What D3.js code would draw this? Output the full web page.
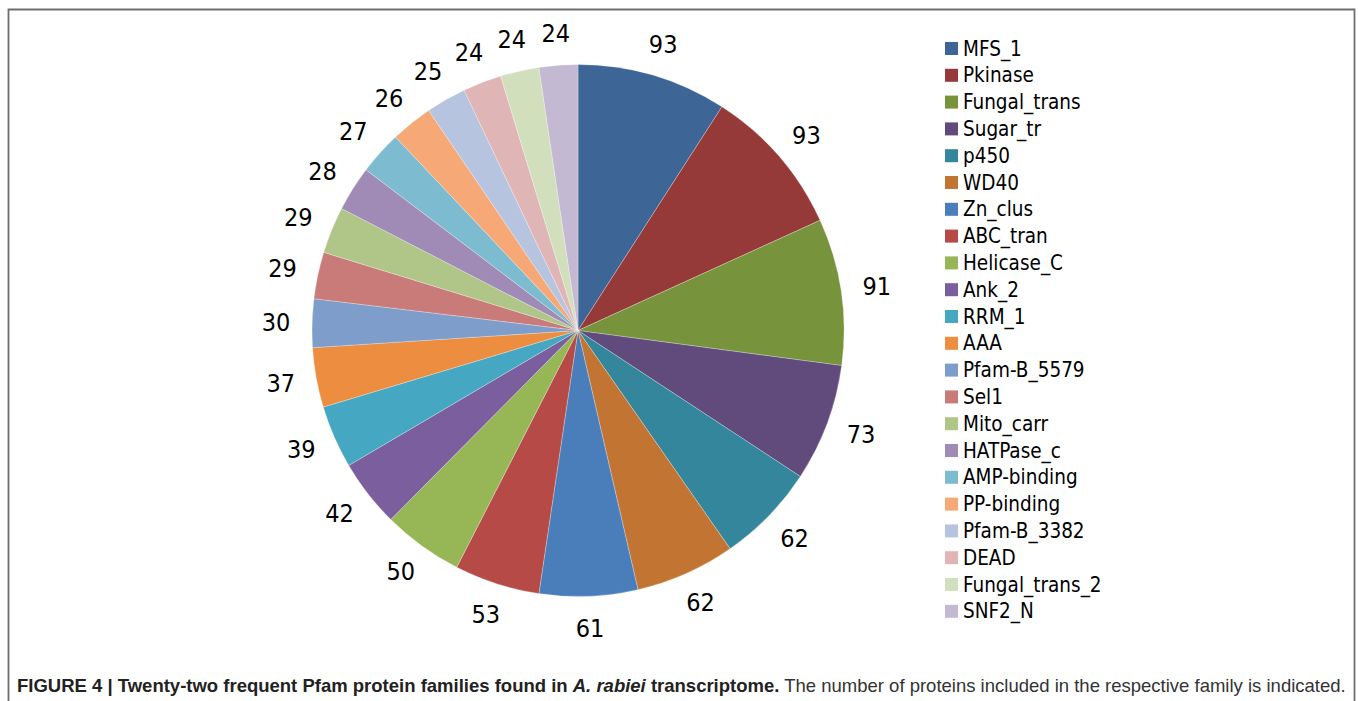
<!DOCTYPE html>
<html>
<head>
<meta charset="utf-8">
<script src="https://cdn.jsdelivr.net/npm/d3@7"></script>
<style>
  html, body { margin: 0; padding: 0; background: #fff; }
  svg { display: block; }
  .lbl { font-family: "DejaVu Sans Condensed", "DejaVu Sans", sans-serif; font-stretch: condensed; }
  .cap { font-family: "Liberation Sans", Arial, sans-serif; }
</style>
</head>
<body>
<svg id="chart" width="1358" height="701"></svg>
<script>
// Pfam families and their protein counts
const families = ["MFS_1", "Pkinase", "Fungal_trans", "Sugar_tr", "p450", "WD40", "Zn_clus",
  "ABC_tran", "Helicase_C", "Ank_2", "RRM_1", "AAA", "Pfam-B_5579", "Sel1", "Mito_carr",
  "HATPase_c", "AMP-binding", "PP-binding", "Pfam-B_3382", "DEAD", "Fungal_trans_2", "SNF2_N"];
const counts = [93, 93, 91, 73, 62, 62, 61, 53, 50, 42, 39, 37, 30, 29, 29, 28, 27, 26, 25, 24, 24, 24];
const palette = ["#3d6697", "#953a38", "#77933c", "#614b7c", "#33869b", "#c27533", "#4a7ebb",
  "#b64a47", "#97b655", "#7b5e9e", "#46a7c2", "#ec8d40", "#7f9dca", "#c97b7a", "#afc688",
  "#9f8bb5", "#7dbbd0", "#f6a877", "#b6c4df", "#dfb6b5", "#d2dfbd", "#c3b9d2"];

const data = families.map((name, i) => ({ name, value: counts[i], color: palette[i] }));

const svg = d3.select("#chart");
const W = 1358, H = 701;

// figure frame (open at the bottom)
svg.append("path")
  .attr("d", `M8.5,${H} V9.5 H1354.5 V${H}`)
  .attr("fill", "none")
  .attr("stroke", "#6e6e6e")
  .attr("stroke-width", 1.8);

const cx = 578, cy = 330.5, R = 266;

const pie = d3.pie().value(d => d.value).sort(null);
const arcs = pie(data);
const arc = d3.arc().innerRadius(0).outerRadius(R);

// label anchor: a little further out sideways than above/below, since numbers are wider than tall
function labelPos(d) {
  const a = (d.startAngle + d.endAngle) / 2;
  return [Math.sin(a) * (R + 36), -Math.cos(a) * (R + 32)];
}

const g = svg.append("g").attr("transform", `translate(${cx},${cy})`);

g.selectAll("path.slice")
  .data(arcs)
  .join("path")
  .attr("class", "slice")
  .attr("d", arc)
  .attr("fill", d => d.data.color)
  .attr("stroke", "rgba(255,255,255,0.45)")
  .attr("stroke-width", 0.6);

// value labels outside each slice
g.selectAll("text.val")
  .data(arcs)
  .join("text")
  .attr("class", "val lbl")
  .attr("transform", d => `translate(${labelPos(d)})`)
  .attr("text-anchor", "middle")
  .attr("dominant-baseline", "central")
  .attr("font-size", 25)
  .attr("fill", "#000")
  .text(d => d.data.value);

// legend
const legend = svg.append("g").attr("transform", "translate(945,48.5)");
const rowH = 26.8;
const item = legend.selectAll("g.item")
  .data(data)
  .join("g")
  .attr("class", "item")
  .attr("transform", (d, i) => `translate(0,${i * rowH})`);
item.append("rect")
  .attr("x", 0).attr("y", -6.5)
  .attr("width", 13).attr("height", 13)
  .attr("fill", d => d.color);
item.append("text")
  .attr("class", "lbl")
  .attr("x", 18)
  .attr("dominant-baseline", "central")
  .attr("font-size", 20.5)
  .attr("fill", "#000")
  .text(d => d.name);

// caption
const cap = svg.append("text")
  .attr("class", "cap")
  .attr("x", 17).attr("y", 692)
  .attr("font-size", 18.5)
  .attr("fill", "#222");
cap.append("tspan").attr("font-weight", "bold").text("FIGURE 4 | Twenty-two frequent Pfam protein families found in ");
cap.append("tspan").attr("font-weight", "bold").attr("font-style", "italic").text("A. rabiei");
cap.append("tspan").attr("font-weight", "bold").text(" transcriptome.");
cap.append("tspan").attr("fill", "#333").text(" The number of proteins included in the respective family is indicated.");
</script>
</body>
</html>
